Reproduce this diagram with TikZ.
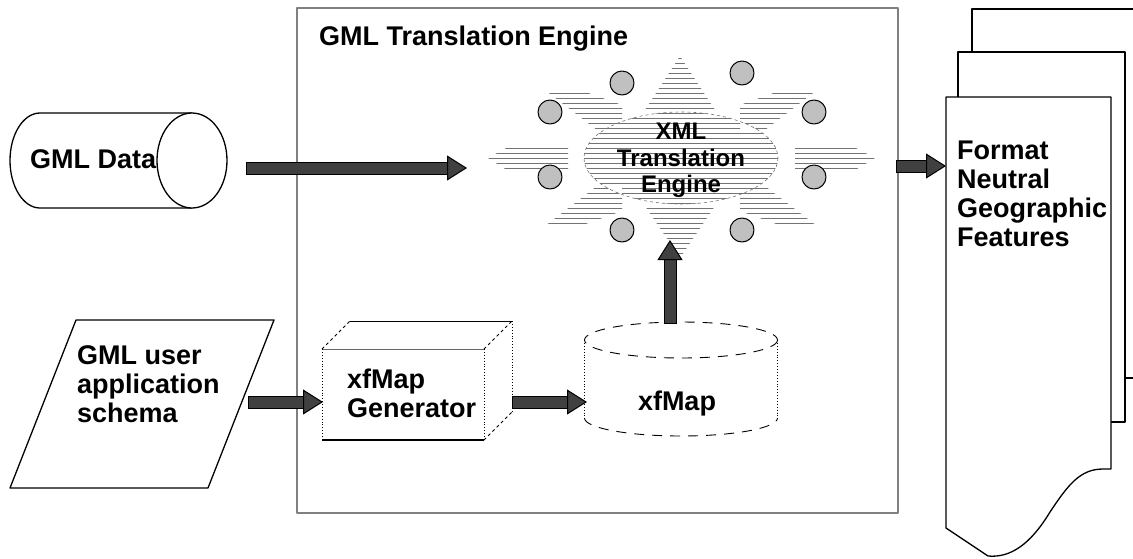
\documentclass[tikz,border=0pt]{standalone}
\usepackage{fontspec}
\setmainfont{Liberation Sans}
\usetikzlibrary{calc}
\usetikzlibrary{arrows.meta}
\definecolor{fatgray}{HTML}{404040}
\definecolor{knobgray}{HTML}{C0C0C0}

\begin{document}
\begin{tikzpicture}[x=1pt, y=-1pt, line join=round]


 \tikzset{
    fat/.style={
      line width=11pt,
      draw=fatgray,
      preaction={draw=black, line width=13pt, shorten >=15pt, shorten <=-1pt, -},
      -{Triangle[length=20pt, width=25pt, line width=1pt, fill=fatgray, color=black]}
    },
    txt/.style={
      font=\bfseries\fontsize{27}{29}\selectfont,
      align=left,
      inner sep=0pt
    },
    outline/.style={
      draw,
      fill=white,
      line width=1.3pt
    },
    hatch/.style={
      draw=black!55,
      line width=0.6pt
    },
    knob/.style={
      circle,
      draw,
      fill=knobgray,
      minimum size=24pt,
      inner sep=0pt,
      line width=1pt
    }
  }

\useasboundingbox (0,0) rectangle (1133,558);

\draw[draw=black!50, line width=1.2pt] (297,8) rectangle (898,513);
\node[txt, anchor=base west] (title) at (319,45) {GML Translation Engine};

\draw[outline] (972,9) rectangle (1160,378);
\draw[outline] (958,52) rectangle (1125,422);
\draw[outline] (946,97) -- (1111,97) -- (1111,469) -- (1103,469)
   .. controls (1080,469) and (1068,485) .. (1050,512)
   .. controls (1030,545) and (1010,558) .. (988,556) -- (946,528) -- cycle;
\node[txt, anchor=north west] (feat) at (957,141) {Format\\Neutral\\Geographic\\Features};

\draw[outline] (192,113) -- (40,113)
   arc[start angle=-90, end angle=-270, x radius=30, y radius=47.5] -- (192,208);
\draw[outline] (192,160.5) ellipse[x radius=35, y radius=47.5];
\node[txt, anchor=base west] (data) at (30,168) {GML Data};

\draw[outline] (76,320) -- (274,320) -- (208,488) -- (10,488) -- cycle;
\node[txt, anchor=north west] (schema) at (77,345) {GML user\\application\\schema};

\begin{scope}
  \clip (681,158) ellipse[x radius=97, y radius=46]
        (680,56) -- (645,110) -- (715,110) -- cycle
        (680,258) -- (645,206) -- (715,206) -- cycle
        (488,158) -- (510,146) -- (568,146) -- (568,172) -- (510,172) -- cycle
        (875,158) -- (852,146) -- (795,146) -- (795,172) -- (852,172) -- cycle
        (545,90) -- (580,90) -- (622,105) -- (622,130) -- (597,130) -- cycle
        (817,90) -- (782,90) -- (740,105) -- (740,130) -- (765,130) -- cycle
        (545,226) -- (580,226) -- (622,211) -- (622,186) -- (597,186) -- cycle
        (817,226) -- (782,226) -- (740,211) -- (740,186) -- (765,186) -- cycle;
  \foreach \yy in {58,63,...,258}
    \draw[hatch] (480,\yy) -- (885,\yy);
\end{scope}
\draw[hatch, dashed] (681,158) ellipse[x radius=97, y radius=46];

\foreach \cx/\cy [count=\k] in {622/83, 742/73, 550/112, 814/112, 550/177, 814/177, 622/230, 742/230}
    \node[knob] (knob\k) at (\cx,\cy) {};

\node[txt, align=center, anchor=north, font=\bfseries\fontsize{24}{26.5}\selectfont] (engine) at (681,123) {XML\\Translation\\Engine};

\draw[line width=1pt] (350,321) -- (512,321);
\draw[black!60, line width=0.8pt] (322,349) -- (484,349);
\draw[line width=1.2pt] (322,440) -- (484,440);
\draw[dotted, line width=0.9pt] (322,349) -- (322,440);
\draw[dotted, line width=0.9pt] (484,349) -- (484,440);
\draw[dotted, line width=0.9pt] (512,321) -- (512,412);
\draw[dashed, line width=0.8pt] (322,349) -- (350,321);
\draw[dashed, line width=0.8pt] (484,349) -- (512,321);
\draw[dashed, line width=0.8pt] (484,440) -- (512,412);
\node[txt, anchor=north west] (gen) at (347,369) {xfMap\\Generator};

\draw[dash pattern=on 10pt off 8pt, line width=0.9pt] (681,340) ellipse[x radius=96.5, y radius=18];
\draw[dotted, line width=0.9pt] (584.5,340) -- (584.5,418);
\draw[dotted, line width=0.9pt] (777.5,340) -- (777.5,418);
\draw[dash pattern=on 10pt off 8pt, line width=0.9pt] (584.5,418)
   arc[start angle=180, end angle=0, x radius=96.5, y radius=18];
\node[txt, anchor=base] (map) at (677,410) {xfMap};

\coordinate (dataout) at (247,168);
\coordinate (enginein) at (467,168);
\coordinate (schemaout) at (249,402);
\coordinate (genin) at (323,402);
\coordinate (genout) at (513,402);
\coordinate (mapin) at (587,402);
\coordinate (mapout) at (670,323);
\coordinate (engineout) at (670,240);
\coordinate (frameout) at (897,166);
\coordinate (featin) at (946,166);

\draw[fat] (dataout) -- (enginein);
\draw[fat] (schemaout) -- (genin);
\draw[fat] (genout) -- (mapin);
\draw[fat] (mapout) -- (engineout);
\draw[fat] (frameout) -- (featin);

\end{tikzpicture}
\end{document}
